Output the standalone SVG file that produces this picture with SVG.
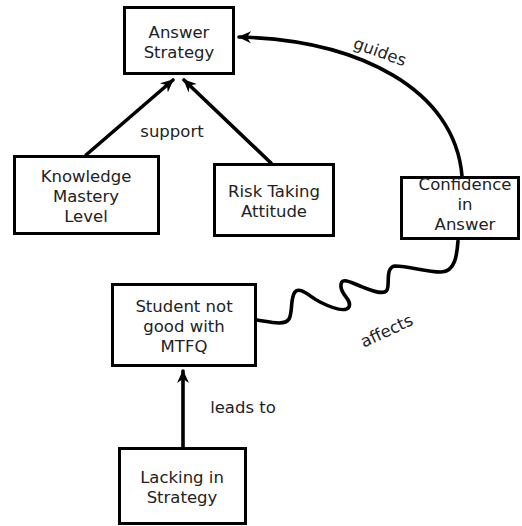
<svg xmlns="http://www.w3.org/2000/svg" width="522" height="526" viewBox="0 0 522 526">
<style>
.box{fill:#fff;stroke:#000;stroke-width:3}
.t{font-family:"DejaVu Sans",Verdana,sans-serif;font-size:16.5px;fill:#222;text-anchor:middle}
.c{fill:none;stroke:#000;stroke-width:3.6;stroke-linecap:round}
</style>
<defs>
<marker id="ah" markerUnits="userSpaceOnUse" markerWidth="14" markerHeight="14" viewBox="0 0 14 14" refX="12" refY="7" orient="auto">
<path d="M0,1 L13,7 L0,13 L4,7 z" fill="#000"/>
</marker>
</defs>
<rect width="522" height="526" fill="#fff"/>
<g id="connectors">
<path class="c" d="M86,155 L173,80" marker-end="url(#ah)"/>
<path class="c" d="M271,163 L184,80" marker-end="url(#ah)"/>
<path class="c" d="M462,176 C455,90 360,40 239,37" marker-end="url(#ah)"/>
<path class="c" d="M458,241 C457,255 455,272 441,272 C425,272 410,266 395,266 C385,267 390,285 387,290 C384,296 370,290 360,286 C350,282 340,276 341,287 C342,296 352,300 349,307 C345,313 330,307 320,302 C310,297 300,286 295,292 C290,298 293,312 289,319 C285,326 270,322 257,320"/>
<path class="c" d="M183,448 L183,371" marker-end="url(#ah)"/>
<text class="t" x="172" y="137">support</text>
<text class="t" transform="translate(378,57) rotate(20)">guides</text>
<text class="t" transform="translate(389,336) rotate(-25)">affects</text>
<text class="t" x="243" y="413">leads to</text>
</g>
<g id="answer-strategy">
<rect class="box" x="124.5" y="7.5" width="109" height="66"/>
<text class="t" x="179" y="38">Answer</text>
<text class="t" x="179" y="58">Strategy</text>
</g>
<g id="knowledge-mastery">
<rect class="box" x="14.5" y="156.5" width="144" height="77"/>
<text class="t" x="86" y="182">Knowledge</text>
<text class="t" x="86" y="202">Mastery</text>
<text class="t" x="86" y="222">Level</text>
</g>
<g id="risk-taking">
<rect class="box" x="214.5" y="164.5" width="119" height="71"/>
<text class="t" x="274" y="197">Risk Taking</text>
<text class="t" x="274" y="217">Attitude</text>
</g>
<g id="confidence">
<rect class="box" x="401.5" y="177.5" width="117" height="61"/>
<text class="t" x="465" y="190">Confidence</text>
<text class="t" x="465" y="210">in</text>
<text class="t" x="465" y="230">Answer</text>
</g>
<g id="student">
<rect class="box" x="112.5" y="284.5" width="143" height="81"/>
<text class="t" x="184" y="312">Student not</text>
<text class="t" x="184" y="332">good with</text>
<text class="t" x="184" y="352">MTFQ</text>
</g>
<g id="lacking">
<rect class="box" x="119.5" y="448.5" width="126" height="75"/>
<text class="t" x="182" y="483">Lacking in</text>
<text class="t" x="182" y="503">Strategy</text>
</g>
</svg>
